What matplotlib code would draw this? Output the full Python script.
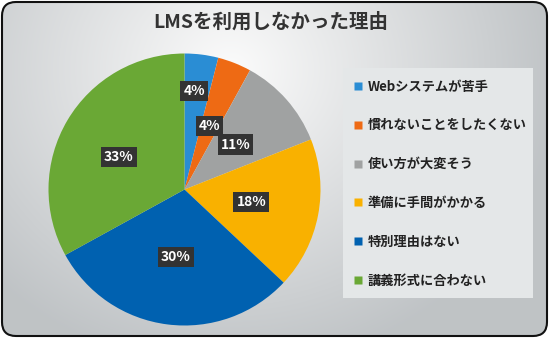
import numpy as np
import matplotlib
matplotlib.use("Agg")
import matplotlib.pyplot as plt
from matplotlib.patches import FancyBboxPatch, Rectangle
from matplotlib.lines import Line2D

plt.rcParams['font.family'] = ['Noto Sans CJK JP', 'DejaVu Sans']

title = "LMSを利用しなかった理由"
categories = ["Webシステムが苦手", "慣れないことをしたくない", "使い方が大変そう",
              "準備に手間がかかる", "特別理由はない", "講義形式に合わない"]
values = [4, 4, 11, 18, 30, 33]
colors = ["#2A8DD4", "#EE6A14", "#A0A2A2", "#F9B100", "#0061B0", "#6AA835"]

W, H = 549, 338
fig = plt.figure(figsize=(W / 100, H / 100), dpi=100)
fig.patch.set_alpha(0)

# background with gradient, rounded border
bg = fig.add_axes([0, 0, 1, 1])
bg.set_xlim(0, W)
bg.set_ylim(0, H)
bg.axis('off')
yy, xx = np.mgrid[0:H, 0:W]
cx, cy = 230, H - 70
d = np.sqrt(((xx - cx) / 330.0) ** 2 + ((yy - cy) / 300.0) ** 2)
d = np.clip(d, 0, 1)
c0 = np.array([0.985, 0.985, 0.985])
c1 = np.array([0.75, 0.765, 0.775])
img = c0[None, None, :] * (1 - d[..., None]) + c1[None, None, :] * d[..., None]
im = bg.imshow(img, extent=[0, W, 0, H], origin='lower', zorder=0, aspect='auto')
frame = FancyBboxPatch((2, 2), W - 4, H - 4, boxstyle="round,pad=0,rounding_size=14",
                       facecolor='none', edgecolor='#111111', linewidth=1.5, zorder=3)
bg.add_patch(frame)
im.set_clip_path(frame)

# legend background box
bg.add_patch(Rectangle((343, H - 298), 190, 230, facecolor='#E4E7E8',
                       edgecolor='none', zorder=1))

fig.text(0.494, 1 - 22 / H, title, ha='center', va='center', fontsize=14,
         fontweight='bold', color='#333333')

# pie
r = 136
pcx, pcy = 184.5, 189.5
ax = fig.add_axes([(pcx - r) / W, (H - pcy - r) / H, 2 * r / W, 2 * r / H])
wedges, texts, autotexts = ax.pie(values, colors=colors, startangle=90, counterclock=False,
                                  autopct='%d%%', pctdistance=0.5,
                                  wedgeprops=dict(linewidth=0))
ax.set_xlim(-1, 1)
ax.set_ylim(-1, 1)
ax.set_aspect('equal')
ax.axis('off')

for i, t in enumerate(autotexts):
    w = wedges[i]
    ang = np.deg2rad((w.theta1 + w.theta2) / 2)
    dist = 0.5
    if i == 0:
        dist = 0.73
        ang = np.deg2rad((w.theta1 + w.theta2) / 2 + 1.5)
    elif i == 5:
        dist = 0.54
        ang = np.deg2rad((w.theta1 + w.theta2) / 2 + 4)
    t.set_position((dist * np.cos(ang), dist * np.sin(ang)))
    t.set_color('white')
    t.set_fontsize(10)
    t.set_fontweight('bold')
    t.set_bbox(dict(boxstyle='square,pad=0.22', facecolor='#333333', edgecolor='none'))

handles = [Line2D([0], [0], marker='s', linestyle='none', markersize=6,
                  markerfacecolor=c, markeredgecolor='none') for c in colors]
leg = fig.legend(handles, categories, loc='upper left',
                 bbox_to_anchor=(346 / W, 1 - 73 / H), frameon=False,
                 prop=dict(size=9.5, weight='bold'), labelspacing=1.88,
                 handlelength=0.8, handletextpad=0.35, borderpad=0)
for t in leg.get_texts():
    t.set_color('#222222')

fig.savefig("out.png", dpi=100)
